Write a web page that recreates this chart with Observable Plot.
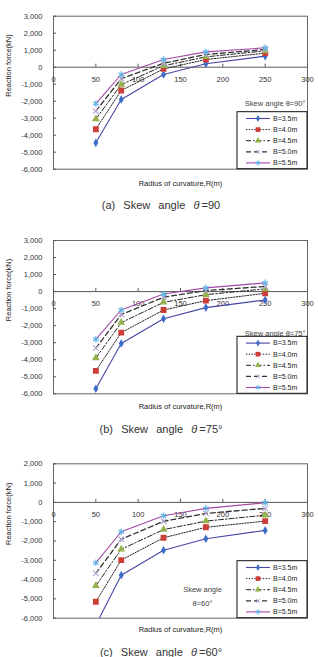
<!DOCTYPE html>
<html>
<head>
<meta charset="utf-8">
<script src="https://cdn.jsdelivr.net/npm/d3@7"></script>
<script src="https://cdn.jsdelivr.net/npm/@observablehq/plot@0.6"></script>
<style>
  body { margin: 0; background: #fff; }
  #page { position: relative; width: 318px; height: 657px; overflow: hidden;
          font-family: "Liberation Sans", Arial, sans-serif; background: #fff; }
  .panel { position: absolute; left: 0; }
  .caption { position: absolute; left: 0; width: 322px; text-align: center;
             font-size: 11px; line-height: 11px; color: #333; word-spacing: 1px; }
</style>
</head>
<body>
<div id="page"></div>
<script>
// Radius of curvature R (m) at which the reaction force was computed
const radius = [50, 80, 130, 180, 250];
// Deck width series
const widthLabels = ["B=3.5m", "B=4.0m", "B=4.5m", "B=5.0m", "B=5.5m"];
// Axis ticks
const xTicks = [0, 50, 100, 150, 200, 250, 300];
const yTicksTall = [3000, 2000, 1000, 0, -1000, -2000, -3000, -4000, -5000, -6000];
const yTicksShort = [2000, 1000, 0, -1000, -2000, -3000, -4000, -5000, -6000];

// Reaction force (kN), skew angle 90°
const skew90_B35 = [-4450, -1900, -430, 200, 650];
const skew90_B40 = [-3650, -1370, -100, 450, 830];
const skew90_B45 = [-3050, -1020, 80, 610, 960];
const skew90_B50 = [-2580, -680, 230, 750, 1040];
const skew90_B55 = [-2140, -430, 450, 900, 1140];

// Reaction force (kN), skew angle 75°
const skew75_B35 = [-5700, -3050, -1590, -940, -490];
const skew75_B40 = [-4650, -2410, -1080, -530, -100];
const skew75_B45 = [-3900, -1820, -630, -180, 160];
const skew75_B50 = [-3320, -1350, -330, 60, 300];
const skew75_B55 = [-2800, -1080, -140, 220, 510];

// Reaction force (kN), skew angle 60°
const skew60_B35 = [-6350, -3770, -2480, -1880, -1450];
const skew60_B40 = [-5150, -2990, -1830, -1290, -970];
const skew60_B45 = [-4320, -2430, -1410, -970, -660];
const skew60_B50 = [-3680, -1910, -980, -570, -310];
const skew60_B55 = [-3130, -1520, -690, -310, -20];

// Line and marker styling of each width series
const seriesStyle = [
  {line: "#4647a4", dash: null, width: 1.1, symbol: "diamond", color: "#3b6cc6", r: 2.6, filled: true},
  {line: "#222222", dash: "1.4,1.4", width: 1, symbol: "square", color: "#cc3f38", r: 3.3, filled: true},
  {line: "#222222", dash: "5,2,1.5,2", width: 1, symbol: "triangle", color: "#93b24c", r: 2.9, filled: true},
  {line: "#333333", dash: "5,3", width: 1.3, symbol: "times", color: "#b3a6d2", r: 2.6, filled: false},
  {line: "#a44aa6", dash: null, width: 1.1, symbol: "asterisk", color: "#5cb3e2", r: 3.1, filled: false}
];

const fmt = d => (d < 0 ? "-" : "") + d3.format(",")(Math.abs(d));
const d3Symbols = {diamond: d3.symbolDiamond, square: d3.symbolSquare, triangle: d3.symbolTriangle,
                   times: d3.symbolTimes, asterisk: d3.symbolAsterisk};

function panel({top, frameTop, frameHeight, bottomPad, yDomain, yTicks, series, notes, xLabelGap, caption, captionTop}) {
  const rows = series.flatMap((vals, i) => radius.map((r, j) => ({b: widthLabels[i], r, f: vals[j]})));
  const height = frameTop + frameHeight + bottomPad;

  const lineMarks = series.map((vals, i) => {
    const s = seriesStyle[i];
    return Plot.line(rows.filter(d => d.b === widthLabels[i]), {
      x: "r", y: "f", stroke: s.line, strokeWidth: s.width,
      strokeDasharray: s.dash ?? undefined, clip: true
    });
  });
  const dotMarks = series.map((vals, i) => {
    const s = seriesStyle[i];
    return Plot.dot(rows.filter(d => d.b === widthLabels[i]), {
      x: "r", y: "f", symbol: s.symbol, r: s.r,
      fill: s.filled ? s.color : "none",
      stroke: s.filled ? "none" : s.color,
      strokeWidth: s.filled ? undefined : 1.2, clip: true
    });
  });
  const noteMarks = notes.map(n => Plot.text([n.text], {
    frameAnchor: n.anchor, dx: n.dx, dy: n.dy, textAnchor: n.textAnchor,
    fill: "#444", fontSize: 7.5
  }));

  const svg = Plot.plot({
    width: 318, height,
    marginLeft: 53, marginRight: 11, marginTop: frameTop, marginBottom: bottomPad,
    x: {domain: [0, 300], axis: null},
    y: {domain: yDomain, axis: null},
    style: {fontFamily: '"Liberation Sans", Arial, sans-serif', fontSize: "7.5px", color: "#222", background: "white"},
    marks: [
      Plot.frame({stroke: "#666"}),
      Plot.ruleY([0], {stroke: "#555"}),
      Plot.ruleX(xTicks, {x: d => d, y1: 0, y2: 0, insetTop: -3, stroke: "#555"}),
      Plot.text(xTicks, {x: d => d, y: 0, dy: 12, text: d => String(d), fill: "#333"}),
      Plot.ruleY(yTicks, {y: d => d, x1: 0, x2: 0, insetRight: -3, stroke: "#555"}),
      Plot.text(yTicks, {x: 0, y: d => d, dx: -11, textAnchor: "end", text: fmt, fill: "#333"}),
      ...lineMarks,
      ...dotMarks,
      ...noteMarks,
      Plot.text(["Radius of curvature,R(m)"], {frameAnchor: "bottom", dy: xLabelGap, fill: "#222", fontSize: 7.5}),
      Plot.text(["Reaction force(kN)"], {frameAnchor: "left", dx: -45, dy: 4, rotate: -90, fill: "#222", fontSize: 7.5})
    ]
  });

  // Legend box in the lower-right corner of the plotting frame
  const frameBottom = frameTop + frameHeight;
  const boxTop = frameBottom - 57;
  const g = d3.select(svg).append("g").attr("text-anchor", "start");
  g.append("rect").attr("x", 237).attr("y", boxTop).attr("width", 70).attr("height", 57)
    .attr("fill", "white").attr("stroke", "#111").attr("stroke-width", 1);
  widthLabels.forEach((label, i) => {
    const s = seriesStyle[i];
    const y = boxTop + 6.8 + i * 11.1;
    g.append("line").attr("x1", 246).attr("x2", 270).attr("y1", y).attr("y2", y)
      .attr("stroke", s.line).attr("stroke-width", s.width)
      .attr("stroke-dasharray", s.dash);
    g.append("path")
      .attr("transform", `translate(258,${y})`)
      .attr("d", d3.symbol(d3Symbols[s.symbol], Math.PI * (s.r * 0.8) ** 2)())
      .attr("fill", s.filled ? s.color : "none")
      .attr("stroke", s.filled ? "none" : s.color)
      .attr("stroke-width", 1);
    g.append("text").attr("x", 273).attr("y", y).attr("dy", "0.34em")
      .attr("text-anchor", "start")
      .attr("font-size", 7).attr("fill", "#222").text(label);
  });

  const wrap = document.createElement("div");
  wrap.className = "panel";
  wrap.style.top = top + "px";
  wrap.appendChild(svg);
  document.getElementById("page").appendChild(wrap);

  const cap = document.createElement("div");
  cap.className = "caption";
  cap.style.top = captionTop + "px";
  cap.innerHTML = caption;
  document.getElementById("page").appendChild(cap);
}

panel({
  top: 0, frameTop: 15.7, frameHeight: 153, bottomPad: 28,
  yDomain: [-6000, 3000], yTicks: yTicksTall,
  series: [skew90_B35, skew90_B40, skew90_B45, skew90_B50, skew90_B55],
  notes: [{text: "Skew angle θ=90°", anchor: "top-right", dx: -2, dy: 84.5, textAnchor: "end"}],
  xLabelGap: 17, caption: "(a)&nbsp; Skew&nbsp; angle&nbsp; <i>θ</i>&thinsp;=90", captionTop: 200
});

panel({
  top: 224, frameTop: 16, frameHeight: 153.3, bottomPad: 28,
  yDomain: [-6000, 3000], yTicks: yTicksTall,
  series: [skew75_B35, skew75_B40, skew75_B45, skew75_B50, skew75_B55],
  notes: [{text: "Skew angle θ=75°", anchor: "top-right", dx: -2, dy: 90, textAnchor: "end"}],
  xLabelGap: 15, caption: "(b)&nbsp; Skew&nbsp; angle&nbsp; <i>θ</i>&thinsp;=75°", captionTop: 423.5
});

panel({
  top: 448, frameTop: 15.3, frameHeight: 154.4, bottomPad: 26,
  yDomain: [-6000, 2000], yTicks: yTicksShort,
  series: [skew60_B35, skew60_B40, skew60_B45, skew60_B50, skew60_B55],
  notes: [
    {text: "Skew angle", anchor: "top-left", dx: 149, dy: 122.7, textAnchor: "middle"},
    {text: "θ=60°", anchor: "top-left", dx: 149, dy: 136.7, textAnchor: "middle"}
  ],
  xLabelGap: 14.3, caption: "(c)&nbsp; Skew&nbsp; angle&nbsp; <i>θ</i>&thinsp;=60°", captionTop: 646.5
});
</script>
</body>
</html>
